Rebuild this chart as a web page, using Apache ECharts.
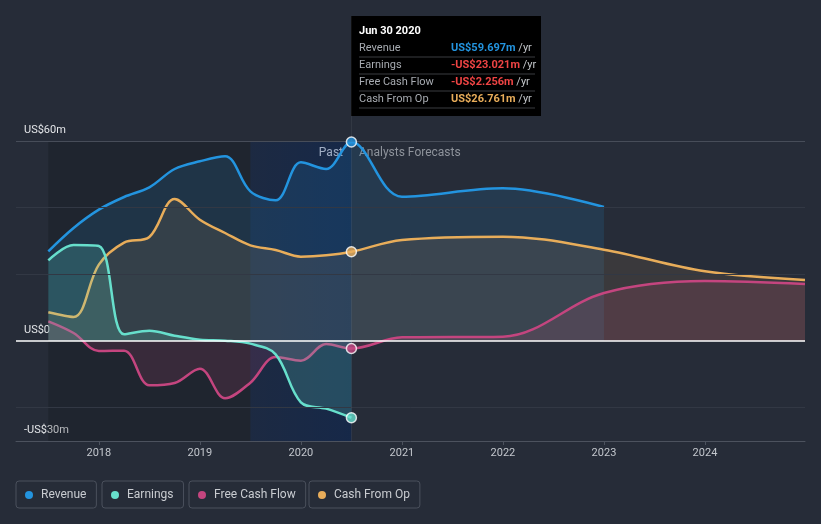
<!DOCTYPE html>
<html><head><meta charset="utf-8">
<script src="https://cdn.jsdelivr.net/npm/echarts@6/dist/echarts.min.js"></script>
<style>html,body{margin:0;padding:0;background:#262c38;}#c{width:821px;height:524px;}</style>
</head><body><div id="c"></div>
<script>
// ---- data ----
const pastYears = [2017.5, 2017.75, 2018.0, 2018.25, 2018.5, 2018.75, 2019.0, 2019.25, 2019.5, 2019.75, 2020.0, 2020.25, 2020.5];
const revenuePast = [26.9, 33.9, 39.4, 43.2, 46.1, 51.6, 53.9, 55.4, 44.9, 42.2, 53.6, 51.6, 59.697];
const earningsPast = [24.2, 28.8, 28.5, 2.0, 3.1, 1.6, 0.4, 0.1, -0.8, -4.0, -18.4, -20.3, -23.021];
const fcfPast = [5.9, 2.4, -3.0, -2.9, -13.3, -12.6, -8.3, -17.2, -12.5, -4.8, -5.9, -0.9, -2.256];
const cfoPast = [8.6, 7.2, 22.9, 29.5, 31.2, 42.6, 36.4, 32.4, 28.7, 27.3, 25.3, 25.7, 26.761];

const fcYears = [2021, 2022, 2023, 2024, 2024.99];
const revenueFc = [43.3, 45.8, 40.2];
const fcfFc = [1.1, 1.3, 14.4, 18.0, 17.1];
const cfoFc = [30.3, 31.3, 27.4, 20.9, 18.3];

const seriesNames = ['Revenue', 'Earnings', 'Free Cash Flow', 'Cash From Op'];
const seriesColors = ['#2394df', '#67dfcc', '#c4457f', '#e8ad5a'];
const tooltipTitle = 'Jun 30 2020';
const yTickLabels = {60: 'US$60m', 0: 'US$0', '-30': '-US$30m'};
const pastLabel = 'Past';
const forecastLabel = 'Analysts Forecasts';

// ---- build ----
function zip(xs, ys) { return ys.map((v, i) => [xs[i], v]); }
const revenueData = zip(pastYears, revenuePast).concat(zip(fcYears, revenueFc));
const earningsData = zip(pastYears, earningsPast);
const fcfData = zip(pastYears, fcfPast).concat(zip(fcYears, fcfFc));
const cfoData = zip(pastYears, cfoPast).concat(zip(fcYears, cfoFc));
const lastIdx = pastYears.length - 1;
const splitYear = pastYears[lastIdx];
const lastVals = [revenuePast[lastIdx], earningsPast[lastIdx], fcfPast[lastIdx], cfoPast[lastIdx]];

const fills = ['rgba(35,148,223,0.2)', 'rgba(103,223,204,0.28)', 'rgba(196,69,127,0.22)', 'rgba(232,173,90,0.15)'];
const allData = [revenueData, earningsData, fcfData, cfoData];

const series = allData.map((d, i) => ({
  name: seriesNames[i], type: 'line', data: d, smooth: 0.35,
  symbol: 'none', z: 2 + (i === 1 ? 1 : 0),
  lineStyle: {color: seriesColors[i], width: 2.5},
  itemStyle: {color: seriesColors[i]},
  areaStyle: {color: fills[i]},
  emphasis: {disabled: true}
}));

series[0].markLine = {
  silent: true, symbol: ['none', 'none'], label: {show: false}, animation: false,
  data: [
    {yAxis: 60, lineStyle: {color: '#474d59', width: 1, type: 'solid'}},
    {yAxis: 40, lineStyle: {color: '#323844', width: 1, type: 'solid'}},
    {yAxis: 20, lineStyle: {color: '#323844', width: 1, type: 'solid'}},
    {yAxis: -20, lineStyle: {color: '#323844', width: 1, type: 'solid'}}
  ]
};
series[0].markArea = {
  silent: true, animation: false,
  data: [
    [{xAxis: pastYears[0], yAxis: 60, itemStyle: {color: 'rgba(10,12,18,0.22)'}}, {xAxis: 2019.5, yAxis: -30}],
    [{xAxis: 2019.5, yAxis: 60, itemStyle: {color: {type: 'linear', x: 0, y: 0, x2: 1, y2: 0, colorStops: [{offset: 0, color: 'rgba(0,35,95,0.25)'}, {offset: 1, color: 'rgba(0,35,95,0.42)'}]}}}, {xAxis: splitYear, yAxis: -30}]
  ]
};

series.push({
  name: 'dots', type: 'scatter', z: 6, symbolSize: 10,
  data: lastVals.map((v, i) => ({value: [splitYear, v], itemStyle: {color: seriesColors[i], borderColor: '#ffffff', borderWidth: 1.5}})),
  emphasis: {disabled: true},
  markLine: {
    silent: true, symbol: ['none', 'none'], label: {show: false}, animation: false,
    data: [
      {yAxis: 0, lineStyle: {color: '#ffffff', width: 1.5, type: 'solid'}},
      {xAxis: splitYear, lineStyle: {color: 'rgba(255,255,255,0.06)', width: 1, type: 'solid'}}
    ]
  }
});

function fmt(v) { return (v < 0 ? '-US$' : 'US$') + Math.abs(v).toFixed(3) + 'm'; }

const legendLefts = [16, 102, 189, 309];
const legends = seriesNames.map((n, i) => ({
  data: [{name: n, icon: 'circle'}], left: legendLefts[i], top: 481,
  itemWidth: 14, itemHeight: 8, padding: [8, 10, 7, 9],
  borderColor: '#4a505c', borderWidth: 1, borderRadius: 3, selectedMode: false,
  textStyle: {color: '#c9ccd1', fontSize: 12, fontFamily: 'Roboto'}
}));

// tooltip box graphic
const ttX = 351, ttY = 16;
const gChildren = [
  {type: 'rect', shape: {x: 0, y: 0, width: 190, height: 100}, style: {fill: '#000000'}},
  {type: 'text', x: 8, y: 15, style: {text: tooltipTitle, fill: '#ffffff', font: 'bold 11px Roboto', textVerticalAlign: 'middle'}}
];
seriesNames.forEach((n, i) => {
  const cy = 32 + i * 17;
  const v = lastVals[i];
  const vc = v < 0 ? '#ef4444' : seriesColors[i];
  gChildren.push({type: 'text', x: 8, y: cy, style: {text: n, fill: '#a7abb1', font: '11px Roboto', textVerticalAlign: 'middle'}});
  gChildren.push({type: 'text', x: 100, y: cy, style: {
    text: '{v|' + fmt(v) + '}{u| /yr}', textVerticalAlign: 'middle',
    rich: {v: {fill: vc, font: 'bold 11px Roboto'}, u: {fill: '#c5c8cc', font: '11px Roboto'}}
  }});
  gChildren.push({type: 'line', shape: {x1: 8, y1: cy + 9, x2: 184, y2: cy + 9}, style: {stroke: '#3a3c40', lineWidth: 1}});
});

const option = {
  backgroundColor: '#262c38',
  animation: false,
  textStyle: {fontFamily: 'Roboto'},
  grid: {left: 16, right: 16, top: 16, bottom: 83},
  legend: legends,
  xAxis: {
    type: 'value', min: 2017.18, max: 2024.99, splitNumber: 8, minInterval: 1, maxInterval: 1,
    axisLine: {onZero: false, lineStyle: {color: '#4c525e'}},
    axisTick: {show: true, length: 4, lineStyle: {color: '#4c525e'}},
    axisLabel: {color: '#c3c7cd', fontSize: 11, margin: 7, showMinLabel: false, showMaxLabel: false,
      formatter: v => (Math.abs(v - Math.round(v)) < 1e-6 ? String(Math.round(v)) : '')},
    splitLine: {show: false}
  },
  yAxis: {
    type: 'value', min: -30, max: 97.5, interval: 30,
    axisLine: {show: false}, axisTick: {show: false}, splitLine: {show: false},
    axisLabel: {inside: true, margin: 8, color: '#e3e5e8', fontSize: 11, verticalAlign: 'bottom', padding: [0, 0, 5, 0],
      formatter: v => (yTickLabels[String(v)] || '')}
  },
  graphic: [
    {type: 'group', left: ttX, top: ttY, children: gChildren},
    {type: 'text', x: 343, y: 153, style: {text: pastLabel, fill: '#ffffff', font: '12px Roboto', textAlign: 'right', textVerticalAlign: 'middle'}},
    {type: 'text', x: 359, y: 153, style: {text: forecastLabel, fill: '#8e939b', font: '12px Roboto', textAlign: 'left', textVerticalAlign: 'middle'}}
  ],
  series: series
};
const chart = echarts.init(document.getElementById('c'), null, {renderer: 'canvas'});
chart.setOption(option);
</script>
</body></html>
